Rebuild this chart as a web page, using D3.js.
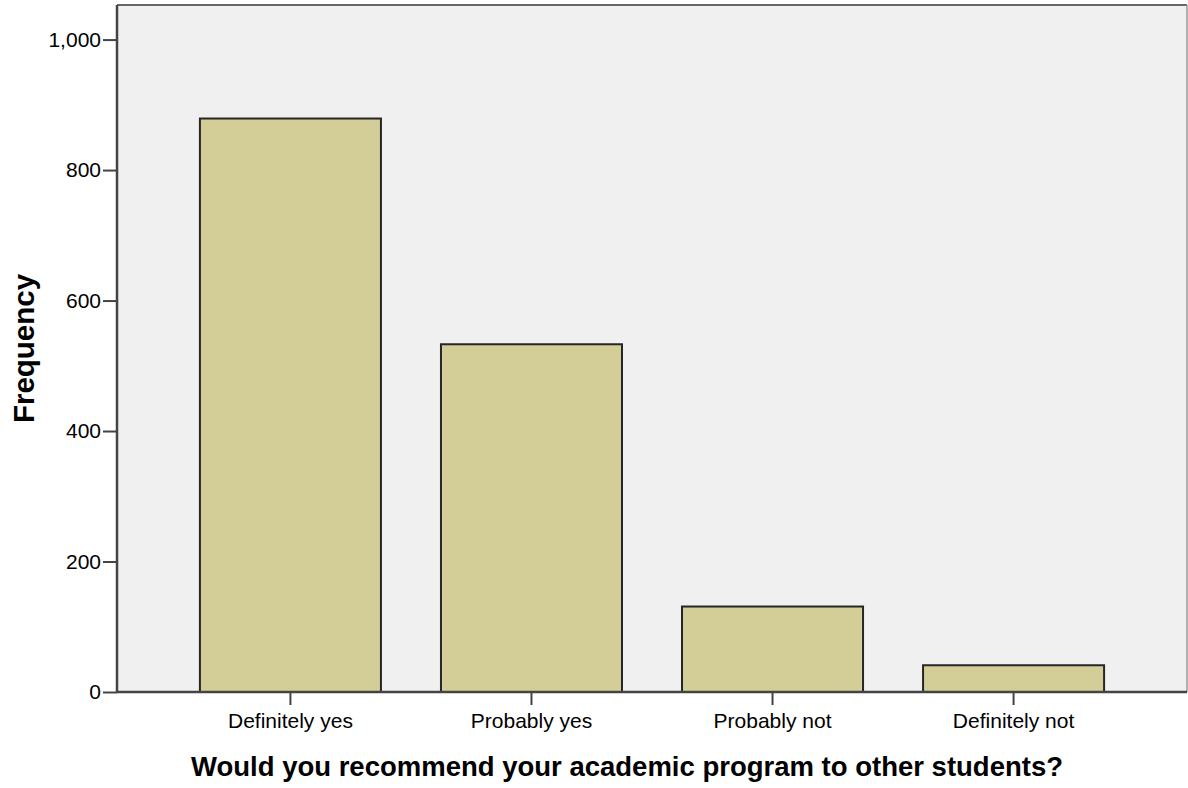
<!DOCTYPE html>
<html>
<head>
<meta charset="utf-8">
<script src="https://cdn.jsdelivr.net/npm/d3@7"></script>
<style>
  body { margin: 0; background: #fff; }
  text { font-family: Arial, "Liberation Sans", sans-serif; fill: #000; }
</style>
</head>
<body>
<svg width="1188" height="788"></svg>
<script>
/*
Chart data
 */
var categories = ["Definitely yes", "Probably yes", "Probably not", "Definitely not"];
var frequencies = [879, 533, 131, 41];
var yTicks = [0, 200, 400, 600, 800, 1000];

/*
Static constants
 */
const margin = {left: 117, top: 5, right: 1187, bottom: 692};
const barColor = "#d3ce97";
const plotColor = "#f0f0f0";

var svg = d3.select("svg");

var x = d3.scaleBand()
    .domain(categories)
    .range([margin.left, margin.right])
    .paddingInner(0.249)
    .paddingOuter(0.344);

var y = d3.scaleLinear()
    .domain([0, 1053])
    .range([margin.bottom, margin.top]);

//plot background + frame
svg.append("rect")
    .attr("x", margin.left)
    .attr("y", margin.top)
    .attr("width", margin.right - margin.left)
    .attr("height", margin.bottom - margin.top)
    .attr("fill", plotColor);

svg.append("line")
    .attr("x1", margin.left).attr("x2", margin.right)
    .attr("y1", margin.top).attr("y2", margin.top)
    .attr("stroke", "#666").attr("stroke-width", 2);
svg.append("line")
    .attr("x1", margin.right).attr("x2", margin.right)
    .attr("y1", margin.top).attr("y2", margin.bottom)
    .attr("stroke", "#999").attr("stroke-width", 1.5);

//bars
svg.append("g").selectAll("rect")
    .data(categories)
    .join("rect")
    .attr("x", function(d) { return x(d); })
    .attr("y", function(d, i) { return y(frequencies[i]); })
    .attr("width", x.bandwidth())
    .attr("height", function(d, i) { return y(0) - y(frequencies[i]); })
    .attr("fill", barColor)
    .attr("stroke", "#262626")
    .attr("stroke-width", 2);

//axes
var xAxis = svg.append("g")
    .attr("transform", "translate(0," + margin.bottom + ")")
    .call(d3.axisBottom(x).tickSize(13).tickPadding(8));

var yAxis = svg.append("g")
    .attr("transform", "translate(" + margin.left + ",0)")
    .call(d3.axisLeft(y).tickValues(yTicks).tickSize(14).tickPadding(2)
        .tickFormat(d3.format(",")));

[xAxis, yAxis].forEach(function(g) {
    g.select(".domain").attr("stroke", "#444").attr("stroke-width", 2.5);
    g.selectAll(".tick line").attr("stroke", "#444").attr("stroke-width", 2);
    g.selectAll(".tick text")
        .attr("font-family", "Arial, 'Liberation Sans', sans-serif")
        .attr("font-size", 21)
        .attr("fill", "#111");
});
xAxis.select(".domain").attr("d", "M" + margin.left + ",0H" + margin.right);
yAxis.select(".domain").attr("d", "M0," + margin.bottom + "V" + margin.top);

//axis titles
svg.append("text")
    .attr("x", 627)
    .attr("y", 776)
    .attr("text-anchor", "middle")
    .attr("font-weight", "bold")
    .attr("font-size", 27.5)
    .text("Would you recommend your academic program to other students?");

svg.append("text")
    .attr("transform", "translate(34," + (margin.top + margin.bottom) / 2 + ") rotate(-90)")
    .attr("text-anchor", "middle")
    .attr("font-weight", "bold")
    .attr("font-size", 29.5)
    .text("Frequency");
</script>
</body>
</html>
